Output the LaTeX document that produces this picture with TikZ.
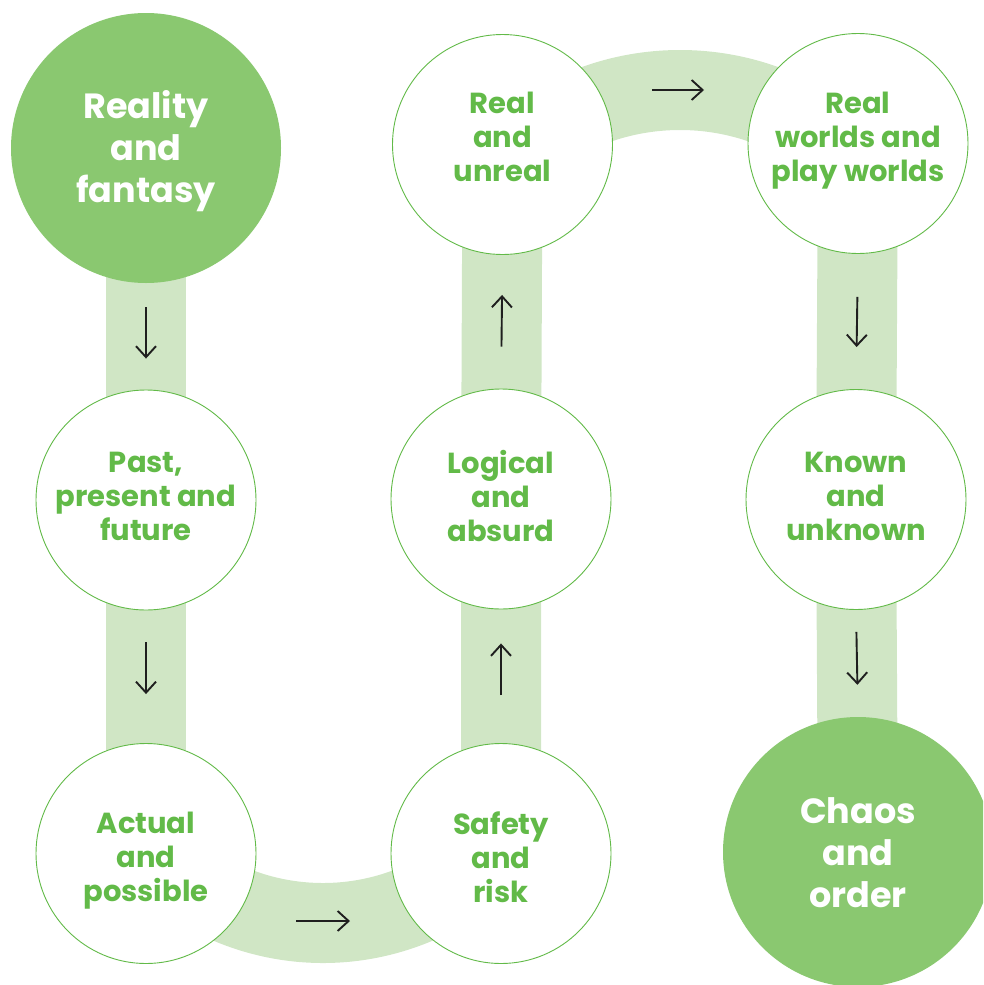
\documentclass[tikz,border=0pt]{standalone}
\usepackage{fontspec}
\setsansfont{Poppins}
\usepackage{tikz}
\usetikzlibrary{arrows.meta,backgrounds,calc}
\definecolor{leaf}{RGB}{138,200,112}
\definecolor{pale}{RGB}{208,230,197}
\definecolor{sprout}{RGB}{98,186,72}

\begin{document}
\begin{tikzpicture}[x=1pt,y=-1pt,
  item/.style={circle,draw=sprout,line width=0.9pt,fill=white,minimum size=220pt,inner sep=0pt},
  pole/.style={circle,fill=leaf,minimum size=270pt,inner sep=0pt},
  word/.style={align=center,inner sep=0pt,text=sprout,
    font=\sffamily\bfseries\fontsize{29}{34}\selectfont,
    execute at begin node=\strut,execute at end node=\strut},
  bigword/.style={word,text=white,font=\sffamily\bfseries\fontsize{35}{42}\selectfont},
  band/.style={pale,line width=80pt},
  flow/.style={-{Straight Barb[length=11pt,width=20pt]},line width=1.9pt,black!88}]
  \useasboundingbox (0,0) rectangle (983,985);
  \clip (0,0) rectangle (983,985);
  % Circles
  \node[pole] (reality) at (146,148) {};
  \node[item] (past) at (146,500) {};
  \node[item] (actual) at (146,853.5) {};
  \node[item] (safety) at (501,853.5) {};
  \node[item] (logical) at (501,499) {};
  \node[item] (unreal) at (502.5,144.5) {};
  \node[item] (worlds) at (858,143.5) {};
  \node[item] (known) at (856,499.5) {};
  \node[pole] (chaos) at (858,852) {};
  % Texts
  \node[bigword] (reality-t) at (146,152.6) {Reality\\and\\fantasy};
  \node[word] (past-t) at (146,501.2) {Past,\\present and\\future};
  \node[word] (actual-t) at (146,862.2) {Actual\\and\\possible};
  \node[word] (safety-t) at (501,862.2) {Safety\\and\\risk};
  \node[word] (logical-t) at (501,501.2) {Logical\\and\\absurd};
  \node[word] (unreal-t) at (502.5,142.2) {Real\\and\\unreal};
  \node[word] (worlds-t) at (858,142.2) {Real\\worlds and\\play worlds};
  \node[word] (known-t) at (856,501.2) {Known\\and\\unknown};
  \node[bigword] (chaos-t) at (858,859.1) {Chaos\\and\\order};
  % Bands
  \coordinate (lowbend) at (323,683);
  \coordinate (highbend) at (680,340);
  \begin{scope}[on background layer]
    \draw[band] (reality.center) -- (actual.center);
    \draw[band] (safety.center) -- (logical.center) -- (unreal.center);
    \draw[band] (worlds.center) -- (known.center) -- (chaos.center);
    \draw[band] (lowbend) ++(140:240) arc[start angle=140,end angle=40,radius=240];
    \draw[band] (highbend) ++(225:250) arc[start angle=225,end angle=315,radius=250];
  \end{scope}
  % Arrows
  \draw[flow,shorten <=24pt,shorten >=31pt] (reality.south) -- (past.north);
  \draw[flow,shorten <=32pt,shorten >=49pt] (past.south) -- (actual.north);
  \draw[flow,shorten <=48pt,shorten >=34pt] (safety.north) -- (logical.south);
  \draw[flow,shorten <=42pt,shorten >=40pt] (logical.north) -- (unreal.south);
  \draw[flow,shorten <=43pt,shorten >=42pt] (worlds.south) -- (known.north);
  \draw[flow,shorten <=22pt,shorten >=32pt] (known.south) -- (chaos.north);
  \coordinate (lowmid) at ($(lowbend)+(0,238)$);
  \coordinate (highmid) at ($(highbend)+(-2,-250)$);
  \draw[flow] ([xshift=-27pt]lowmid) -- ([xshift=27pt]lowmid);
  \draw[flow] ([xshift=-26pt]highmid) -- ([xshift=26pt]highmid);
\end{tikzpicture}
\end{document}
